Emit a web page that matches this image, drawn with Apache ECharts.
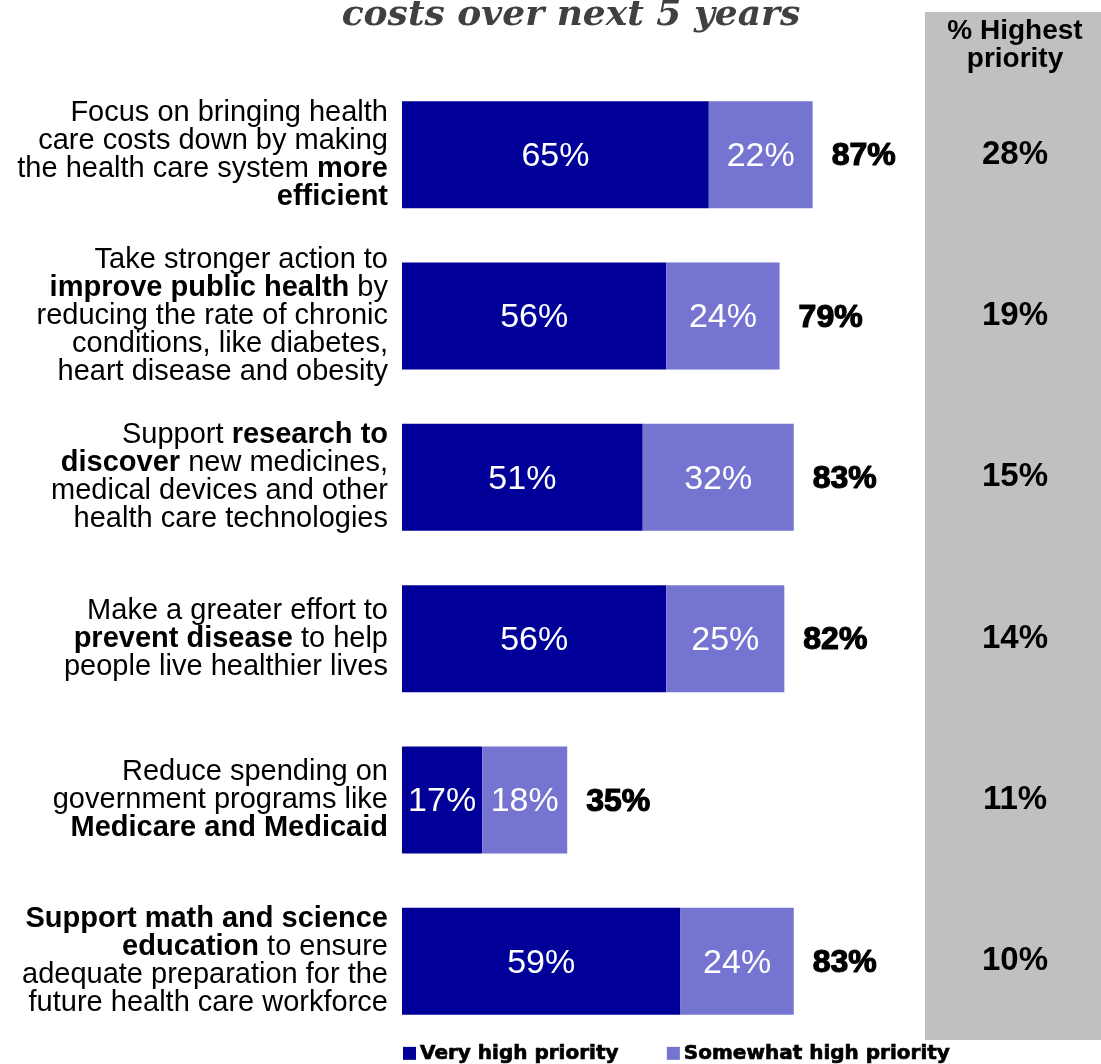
<!DOCTYPE html>
<html>
<head>
<meta charset="utf-8">
<script src="https://cdn.jsdelivr.net/npm/echarts@6/dist/echarts.min.js"></script>
<style>html,body{margin:0;padding:0;background:#fff;}#c{width:1101px;height:1064px;}</style>
</head>
<body>
<div id="c"></div>
<script>
// Category labels: "**" marks bold runs, "\n" separates lines
const categories = [
  "Focus on bringing health\ncare costs down by making\nthe health care system **more**\n**efficient**",
  "Take stronger action to\n**improve public health** by\nreducing the rate of chronic\nconditions, like diabetes,\nheart disease and obesity",
  "Support **research to**\n**discover** new medicines,\nmedical devices and other\nhealth care technologies",
  "Make a greater effort to\n**prevent disease** to help\npeople live healthier lives",
  "Reduce spending on\ngovernment programs like\n**Medicare and Medicaid**",
  "**Support math and science**\n**education** to ensure\nadequate preparation for the\nfuture health care workforce"
];
const veryHigh = [65, 56, 51, 56, 17, 59];
const somewhatHigh = [22, 24, 32, 25, 18, 24];
const totals = [87, 79, 83, 82, 35, 83];
const highestPriority = [28, 19, 15, 14, 11, 10];
const seriesNames = ["Very high priority", "Somewhat high priority"];
const titleText = "costs over next 5 years";
const headerText = "% Highest\npriority";

function toRich(s) {
  return s.split("\n").map(line => {
    const parts = line.split("**");
    return parts.map((p, i) => p === "" ? "" : (i % 2 === 1 ? "{b|" + p + "}" : "{n|" + p + "}")).join("");
  }).join("\n");
}

const chart = echarts.init(document.getElementById("c"), null, {renderer: "canvas"});
const labelFont = "'Liberation Sans', Arial, sans-serif";
const heavyFont = "'DejaVu Sans', sans-serif";

chart.setOption({
  animation: false,
  backgroundColor: "#ffffff",
  graphic: [
    { type: "rect", z: -10, shape: { x: 925, y: 12, width: 176, height: 1028 }, style: { fill: "#c0c0c0" } },
    { type: "text", z: 5, style: { x: 1015, y: 45, text: headerText, font: "bold 28px " + labelFont, fill: "#000", align: "center", verticalAlign: "middle", lineHeight: 28 } },
    { type: "text", z: 5, style: { x: 571, y: 16, text: titleText, font: "italic bold 36px 'DejaVu Serif', serif", fill: "#404040", align: "center", verticalAlign: "middle" } }
  ],
  legend: {
    data: seriesNames,
    left: 403,
    top: 1043,
    padding: 0,
    itemWidth: 13,
    itemHeight: 13,
    itemGap: 48,
    icon: "rect",
    textStyle: { fontFamily: heavyFont, fontWeight: "bold", fontSize: 20, color: "#000", padding: [0, 0, 0, -1], textBorderColor: "#000", textBorderWidth: 0.7 }
  },
  grid: { left: 402, right: 227, top: 74, bottom: 22, containLabel: false },
  xAxis: { type: "value", min: 0, max: 100, show: false },
  yAxis: [
    {
      type: "category",
      data: categories,
      inverse: true,
      axisLine: { show: false },
      axisTick: { show: false },
      axisLabel: {
        margin: 14,
        formatter: v => toRich(v),
        rich: {
          n: { fontFamily: labelFont, fontSize: 29, lineHeight: 28, color: "#000", align: "right" },
          b: { fontFamily: labelFont, fontSize: 29, lineHeight: 28, color: "#000", fontWeight: "bold", align: "right" }
        }
      }
    },
    {
      type: "category",
      data: highestPriority.map(v => v + "%"),
      inverse: true,
      position: "right",
      axisLine: { show: false },
      axisTick: { show: false },
      axisLabel: { margin: 141, align: "center", fontFamily: labelFont, fontWeight: "bold", fontSize: 33, color: "#000" }
    }
  ],
  series: [
    {
      name: seriesNames[0], type: "bar", stack: "a", barWidth: 107,
      data: veryHigh,
      itemStyle: { color: "#000099" },
      label: { show: true, position: "inside", offset: [0, 2], formatter: "{c}%", color: "#fff", fontFamily: labelFont, fontSize: 34 }
    },
    {
      name: seriesNames[1], type: "bar", stack: "a", barWidth: 107,
      data: somewhatHigh,
      itemStyle: { color: "#7575d1" },
      label: { show: true, position: "inside", offset: [0, 2], formatter: "{c}%", color: "#fff", fontFamily: labelFont, fontSize: 34 }
    },
    {
      name: "Total", type: "bar", stack: "a", barWidth: 107,
      data: totals.map(() => 0),
      itemStyle: { color: "transparent" },
      label: { show: true, position: "right", distance: 19, offset: [0, 2], formatter: p => totals[p.dataIndex] + "%", color: "#000", fontFamily: labelFont, fontWeight: "bold", fontSize: 32, textBorderColor: "#000", textBorderWidth: 1.2 }
    }
  ]
});
</script>
</body>
</html>
